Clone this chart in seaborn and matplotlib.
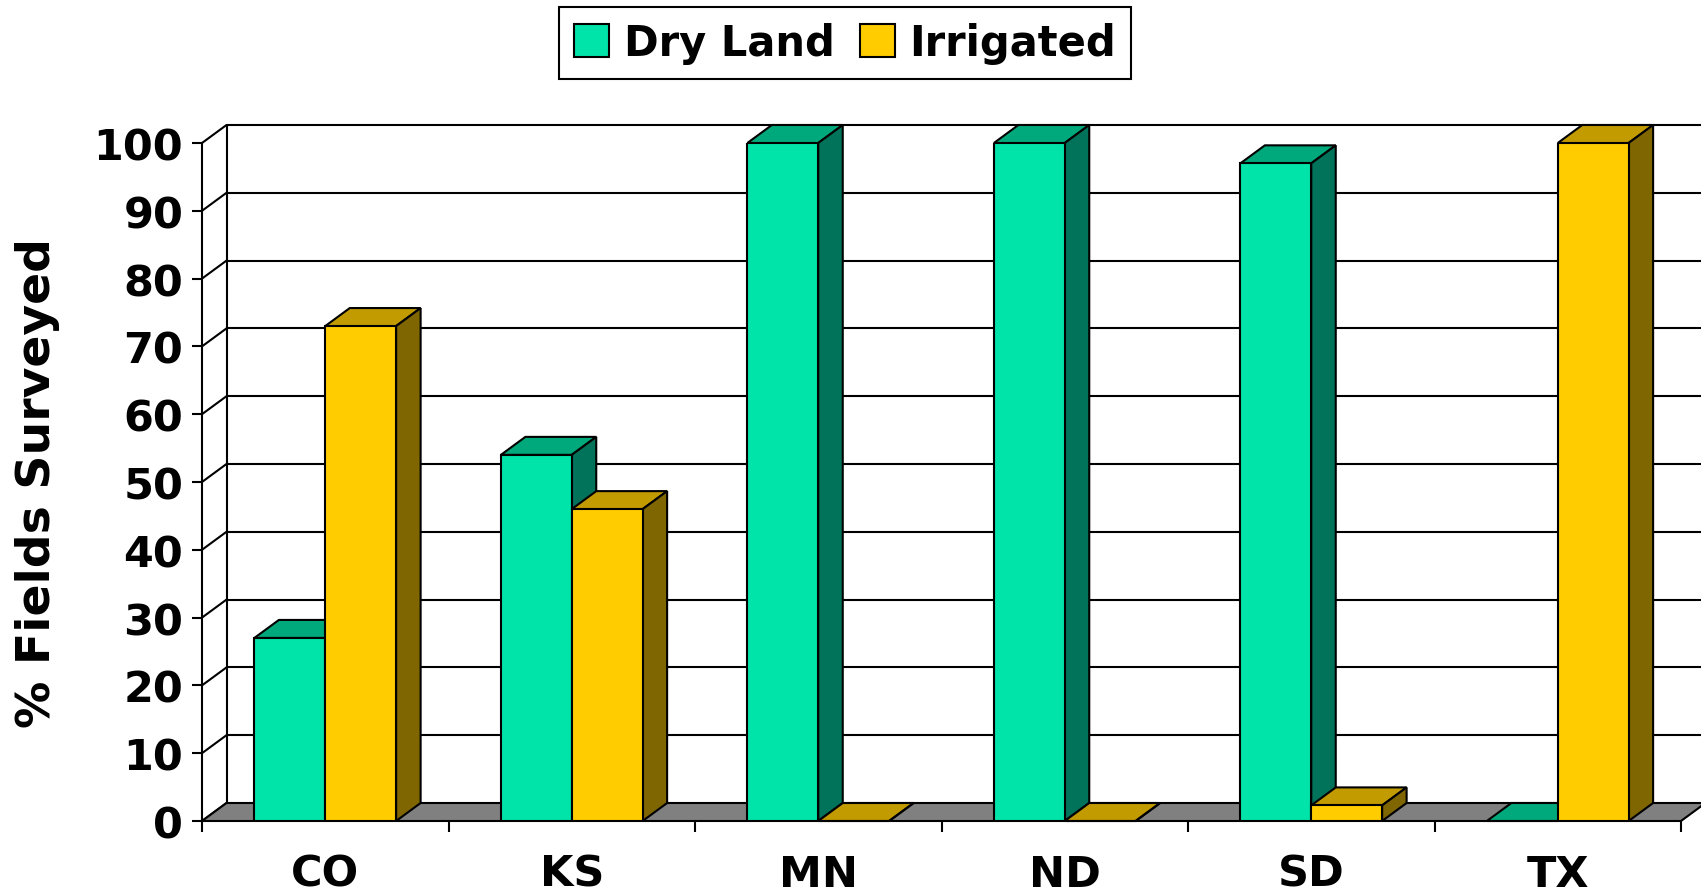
import matplotlib
matplotlib.use("Agg")
import matplotlib.pyplot as plt
import pandas as pd
import numpy as np
import seaborn as sns
from matplotlib.patches import Polygon

states = ["CO", "KS", "MN", "ND", "SD", "TX"]
dry_land = [27, 54, 100, 100, 97, 0]
irrigated = [73, 46, 0, 0, 2.3, 100]
series = ["Dry Land", "Irrigated"]

# front / top / side shades per series
front = {"Dry Land": "#00E3A9", "Irrigated": "#FFCC00"}
top = {"Dry Land": "#00A97C", "Irrigated": "#C29B00"}
side = {"Dry Land": "#00735A", "Irrigated": "#7F6600"}

df = pd.DataFrame({
    "state": states * 2,
    "pct": dry_land + irrigated,
    "type": ["Dry Land"] * len(states) + ["Irrigated"] * len(states),
})

sns.set_style("white")
plt.rcParams["font.family"] = ["DejaVu Sans"]
plt.rcParams["font.weight"] = "bold"
plt.rcParams["text.color"] = "black"
plt.rcParams["axes.labelcolor"] = "black"
plt.rcParams["xtick.color"] = "black"
plt.rcParams["ytick.color"] = "black"

W, H = 1701, 895
fig = plt.figure(figsize=(W / 100, H / 100), dpi=100)
# front plane: x=-0.5 at px 202, 246.5 px per category; y 0 at px 822, 100 at px 144
ax = fig.add_axes([202 / W, 73 / H, (W - 202) / W, 678 / H])

sns.barplot(data=df, x="state", y="pct", hue="type", hue_order=series,
            palette=front, width=0.575, edgecolor="black", linewidth=1.5,
            saturation=1, legend=False, ax=ax)

ax.set_xlim(-0.5, -0.5 + (W - 202) / 246.5)
ax.set_ylim(0, 100)

# depth of the 3D effect in data units
dx = 24.5 / 246.5
dy = 18 / 6.78
x_end = 5.5

bars = list(ax.patches)
for i, p in enumerate(bars):
    name = series[i // len(states)]
    z = 3 if name == "Dry Land" else 4
    x0, w, h = p.get_x(), p.get_width(), p.get_height()
    p.set_zorder(z + 0.2)
    ax.add_patch(Polygon([(x0, h), (x0 + w, h), (x0 + w + dx, h + dy), (x0 + dx, h + dy)],
                         closed=True, facecolor=top[name], edgecolor="black",
                         linewidth=1.5, zorder=z, clip_on=False))
    ax.add_patch(Polygon([(x0 + w, 0), (x0 + w + dx, dy), (x0 + w + dx, h + dy), (x0 + w, h)],
                         closed=True, facecolor=side[name], edgecolor="black",
                         linewidth=1.5, zorder=z, clip_on=False))

# floor
ax.add_patch(Polygon([(-0.5, 0), (x_end, 0), (x_end + dx, dy), (-0.5 + dx, dy)],
                     closed=True, facecolor="#808080", edgecolor="black",
                     linewidth=1.5, zorder=1.5, clip_on=False))

# walls and gridlines
for v in range(10, 101, 10):
    ax.plot([-0.5 + dx, x_end + dx + 1], [v + dy, v + dy], color="black", lw=1.5,
            zorder=1, clip_on=False)
for v in range(0, 101, 10):
    ax.plot([-0.5, -0.5 + dx], [v, v + dy], color="black", lw=1.5, zorder=1, clip_on=False)
ax.plot([-0.5 + dx, -0.5 + dx], [dy, 100 + dy], color="black", lw=1.5, zorder=1, clip_on=False)

for s in ["top", "right", "bottom"]:
    ax.spines[s].set_visible(False)
ax.spines["left"].set_color("black")
ax.spines["left"].set_linewidth(1.5)
ax.spines["left"].set_bounds(0, 100)

ax.set_yticks(range(0, 101, 10))
ax.set_yticklabels([str(v) for v in range(0, 101, 10)], fontsize=31, fontweight="bold")
ax.tick_params(axis="y", direction="out", length=7.5, width=1.5, pad=6, left=True,
               color="black")

ax.set_xticks(np.arange(-0.5, 6, 1))
ax.set_xticklabels([""] * 7)
ax.set_xticks(range(len(states)), minor=True)
ax.set_xticklabels(states, minor=True, fontsize=31, fontweight="bold")
ax.tick_params(axis="x", which="major", direction="out", length=8, width=1.5,
               bottom=True, color="black")
ax.tick_params(axis="x", which="minor", length=0, pad=23)
ax.set_xlabel("")

ax.set_ylabel("% Fields Surveyed", fontsize=34, fontweight="bold", va="center")
ax.yaxis.set_label_coords((38 - 202) / (W - 202), (822 - 483) / 678)

handles = [plt.Rectangle((0, 0), 1, 1, facecolor=front[n], edgecolor="black", linewidth=1.5)
           for n in series]
leg = fig.legend(handles, series, loc="center", bbox_to_anchor=(845 / W, 1 - 44 / H),
                 ncol=2, frameon=True, fancybox=False, framealpha=1,
                 prop={"size": 30, "weight": "bold"}, handlelength=0.85,
                 handleheight=0.85, handletextpad=0.35, columnspacing=0.6,
                 borderpad=0.35, borderaxespad=0)
leg.get_frame().set_edgecolor("black")
leg.get_frame().set_linewidth(1.5)

fig.savefig("out.png", dpi=100)
